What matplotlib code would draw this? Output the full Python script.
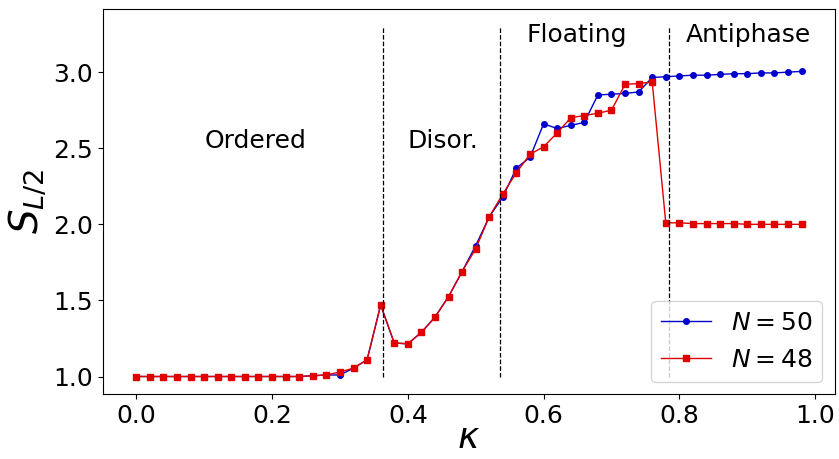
import matplotlib.pyplot as plt

kappa = [0.00, 0.02, 0.04, 0.06, 0.08, 0.10, 0.12, 0.14, 0.16, 0.18,
         0.20, 0.22, 0.24, 0.26, 0.28, 0.30, 0.32, 0.34, 0.36, 0.38,
         0.40, 0.42, 0.44, 0.46, 0.48, 0.50, 0.52, 0.54, 0.56, 0.58,
         0.60, 0.62, 0.64, 0.66, 0.68, 0.70, 0.72, 0.74, 0.76, 0.78,
         0.80, 0.82, 0.84, 0.86, 0.88, 0.90, 0.92, 0.94, 0.96, 0.98]

s_n50 = [1.00, 1.00, 1.00, 1.00, 1.00, 1.00, 1.00, 1.00, 1.00, 1.00,
         1.00, 1.00, 1.00, 1.005, 1.01, 1.01, 1.055, 1.11, 1.47, 1.22,
         1.215, 1.29, 1.39, 1.525, 1.69, 1.86, 2.05, 2.18, 2.37, 2.44,
         2.66, 2.63, 2.65, 2.67, 2.85, 2.855, 2.86, 2.87, 2.965, 2.97,
         2.975, 2.98, 2.98, 2.985, 2.99, 2.99, 2.995, 2.995, 3.00, 3.005]

s_n48 = [1.00, 1.00, 1.00, 1.00, 1.00, 1.00, 1.00, 1.00, 1.00, 1.00,
         1.00, 1.00, 1.00, 1.005, 1.01, 1.03, 1.055, 1.11, 1.47, 1.22,
         1.215, 1.29, 1.39, 1.525, 1.69, 1.84, 2.05, 2.20, 2.34, 2.46,
         2.51, 2.60, 2.70, 2.715, 2.73, 2.75, 2.92, 2.925, 2.935, 2.01,
         2.01, 2.005, 2.005, 2.005, 2.005, 2.00, 2.00, 2.00, 2.00, 2.00]

# phase boundaries
boundaries = [0.363, 0.536, 0.785]

# phase labels: (x, y, text)
phase_x = [0.10, 0.40, 0.575, 0.81]
phase_y = [2.5, 2.5, 3.2, 3.2]
phase_names = ["Ordered", "Disor.", "Floating", "Antiphase"]

fig = plt.figure(figsize=(8.39, 4.59), dpi=100)
ax = fig.add_axes([0.1228, 0.1416, 0.8722, 0.8388])

ax.plot(kappa, s_n50, color="#0000cc", marker="o", markersize=4, linewidth=1, label="$N=50$")
ax.plot(kappa, s_n48, color="#e00000", marker="s", markersize=4, linewidth=1, label="$N=48$")

for b in boundaries:
    ax.vlines(b, 1.0, 3.3, colors="k", linestyles="--", linewidth=0.9)

for x, y, name in zip(phase_x, phase_y, phase_names):
    ax.text(x, y, name, fontsize=18, ha="left", va="baseline")

ax.set_xlabel(r"$\kappa$", fontsize=26, labelpad=-5)
ax.set_ylabel(r"$S_{L/2}$", fontsize=28, labelpad=4)
ax.tick_params(labelsize=18)
ax.set_xticks([0.0, 0.2, 0.4, 0.6, 0.8, 1.0])
ax.set_yticks([1.0, 1.5, 2.0, 2.5, 3.0])
ax.legend(loc="lower right", fontsize=18)

fig.savefig("out.png", dpi=100)
